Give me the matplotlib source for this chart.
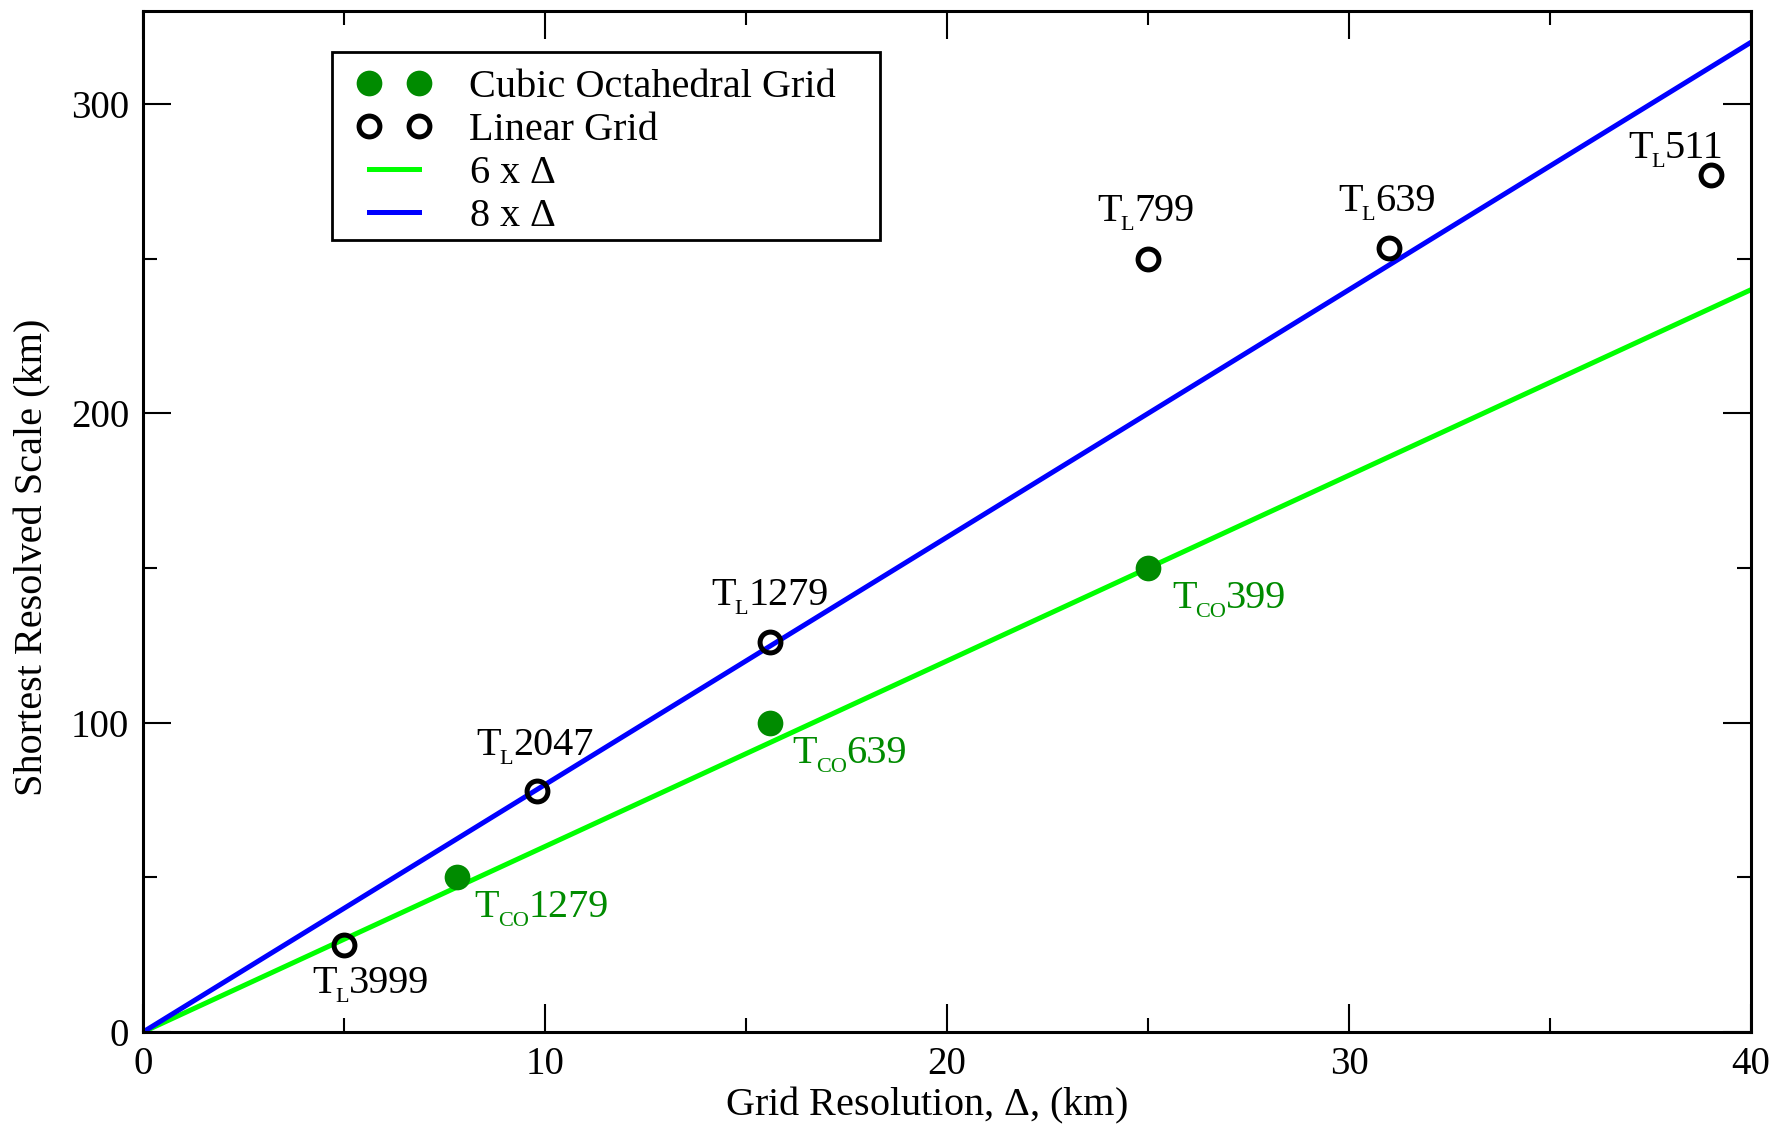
import matplotlib
matplotlib.use("Agg")
import matplotlib.pyplot as plt
from matplotlib.patches import Rectangle
from matplotlib.ticker import MultipleLocator
import numpy as np

plt.rcParams['font.family'] = ['Liberation Serif', 'DejaVu Serif']
plt.rcParams['mathtext.fontset'] = 'custom'
plt.rcParams['mathtext.rm'] = 'Liberation Serif'
plt.rcParams['mathtext.it'] = 'Liberation Serif:italic'

# data
lin_x = [5.0, 9.8, 15.6, 25.0, 31.0, 39.0]
lin_y = [28, 78, 126, 250, 253.5, 277]
lin_names = ['3999', '2047', '1279', '799', '639', '511']
lin_off = [(-32, -48), (-61, 36), (-59, 37), (-51, 38), (-51, 37), (-83, 17)]

co_x = [7.8, 15.6, 25.0]
co_y = [50, 100, 150]
co_names = ['1279', '639', '399']
co_off = [(18, -40), (22, -40), (24, -40)]

res = np.array([0, 40])
factors = [6, 8]

dgreen = '#008b00'


def tlabel(ax, x, y, sub, num, off, color):
    # T, then a lowered small subscript, then the number on the T baseline
    t = ax.annotate('T', (x, y), xytext=off, textcoords='offset pixels',
                    fontsize=29, color=color, ha='left', va='baseline')
    s = ax.annotate(sub, xy=(1, 0), xycoords=t, xytext=(-1, -5),
                    textcoords='offset pixels', fontsize=16, color=color,
                    ha='left', va='bottom')
    ax.annotate(num, xy=(1, 0), xycoords=(s, t), xytext=(0, 0),
                textcoords='offset pixels', fontsize=29, color=color,
                ha='left', va='bottom')


fig = plt.figure(figsize=(17.77, 11.31), dpi=100)
ax = fig.add_axes([0.0805, 0.0875, 0.9049, 0.9025])

ax.plot(res, factors[0] * res, color='#00ff00', lw=3.6, label=r'6 x $\Delta$', zorder=2)
ax.plot(res, factors[1] * res, color='#0000ff', lw=3.6, label=r'8 x $\Delta$', zorder=2)
ax.plot(co_x, co_y, 'o', color=dgreen, ms=18.5, mew=0, label='Cubic Octahedral Grid', zorder=3)
ax.plot(lin_x, lin_y, 'o', mfc='none', mec='black', ms=15, mew=3.6, label='Linear Grid', zorder=3)

for x, y, n, o in zip(lin_x, lin_y, lin_names, lin_off):
    tlabel(ax, x, y, 'L', n, o, 'black')
for x, y, n, o in zip(co_x, co_y, co_names, co_off):
    tlabel(ax, x, y, 'CO', n, o, dgreen)

ax.set_xlim(0, 40)
ax.set_ylim(0, 330)
ax.xaxis.set_major_locator(MultipleLocator(10))
ax.xaxis.set_minor_locator(MultipleLocator(5))
ax.yaxis.set_major_locator(MultipleLocator(100))
ax.yaxis.set_minor_locator(MultipleLocator(50))
ax.tick_params(which='both', direction='in', top=True, right=True, width=1.5,
               labelsize=28, pad=10)
ax.tick_params(which='major', length=20)
ax.tick_params(which='minor', length=10)
for s in ax.spines.values():
    s.set_linewidth(2.2)

ax.set_xlabel(r'Grid Resolution, $\Delta$, (km)', fontsize=29)
ax.set_ylabel('Shortest Resolved Scale (km)', fontsize=29)
ax.xaxis.set_label_coords(0.487, -0.052)
ax.yaxis.set_label_coords(-0.057, 0.465)

# legend box drawn separately so the padding can match the original
ax.add_patch(Rectangle((0.1175, 0.7755), 0.341, 0.1845, transform=ax.transAxes,
                       facecolor='white', edgecolor='black', lw=2, zorder=4))
h, l = ax.get_legend_handles_labels()
order = [2, 3, 0, 1]
leg = ax.legend([h[i] for i in order], [l[i] for i in order], loc='upper left',
                bbox_to_anchor=(0.1281, 0.9513), borderaxespad=0, numpoints=2,
                fontsize=29, frameon=False,
                handlelength=1.83, handletextpad=0.95, labelspacing=0.14, borderpad=0.2)
leg.set_zorder(5)

fig.savefig('out.png', dpi=100)
